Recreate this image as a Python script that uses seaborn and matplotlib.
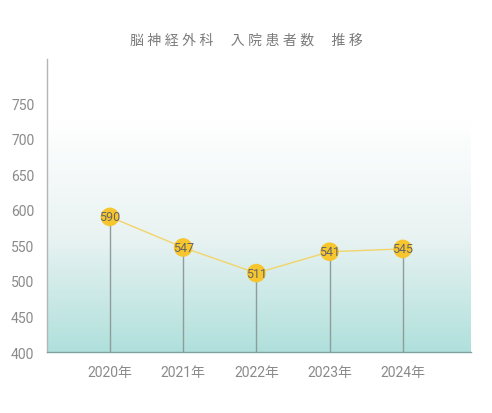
import numpy as np
import pandas as pd
import matplotlib
matplotlib.use('Agg')
import matplotlib.pyplot as plt
from matplotlib.colors import LinearSegmentedColormap
import seaborn as sns

years = ['2020年', '2021年', '2022年', '2023年', '2024年']
patients = [590, 547, 511, 541, 545]
y_ticks = [400, 450, 500, 550, 600, 650, 700, 750]

TITLE = '脳 神 経 外 科 　入 院 患 者 数 　推 移'

sns.set_theme(style='white')
plt.rcParams['font.family'] = ['Roboto', 'Noto Sans CJK JP', 'DejaVu Sans']

df = pd.DataFrame({'year': years, 'patients': patients})
df['x'] = np.arange(len(df))

fig = plt.figure(figsize=(4.92, 4.14), dpi=100)
ax = fig.add_axes([0.0955, 0.1473, 0.8615, 0.7077])

ymin, ymax = 400, 812
xmin, xmax = -0.86, 4.93

# gradient background: white at top -> pale teal at the bottom
cmap = LinearSegmentedColormap.from_list('bg', ['#ffffff', '#e9f3f2', '#b0e0dc'])
grad = np.linspace(0, 1, 256).reshape(-1, 1)
ax.imshow(grad, cmap=cmap, aspect='auto', extent=[xmin, xmax, ymin, 725],
          origin='upper', zorder=0)

# stems
ax.vlines(df['x'], ymin, df['patients'], color='#8e9c9b', lw=1, zorder=1)

sns.lineplot(data=df, x='x', y='patients', ax=ax, color='#f3d46a', lw=1,
             zorder=2, legend=False)
sns.scatterplot(data=df, x='x', y='patients', ax=ax, color='#f7c52e', s=180,
                edgecolor='none', zorder=3, legend=False)

for xi, v in zip(df['x'], df['patients']):
    ax.text(xi, v, str(v), ha='center', va='center', fontsize=9,
            color='#666666', zorder=4)

ax.set_xlim(xmin, xmax)
ax.set_ylim(ymin, ymax)
ax.set_xticks(df['x'])
ax.set_xticklabels(years)
ax.set_yticks(y_ticks)
ax.tick_params(axis='both', length=0, labelsize=10, labelcolor='#8a8a8a')
ax.tick_params(axis='x', pad=9)
ax.tick_params(axis='y', pad=9)
ax.set_xlabel('')
ax.set_ylabel('')

for s in ['top', 'right']:
    ax.spines[s].set_visible(False)
ax.spines['left'].set_color('#b5b5b5')
ax.spines['left'].set_linewidth(1)
ax.spines['bottom'].set_color('#7fa19f')
ax.spines['bottom'].set_linewidth(1)

fig.text(0.5, 0.903, TITLE, ha='center', va='center', fontsize=10,
         color='#7a7a7a')

fig.savefig('out.png', dpi=100)
